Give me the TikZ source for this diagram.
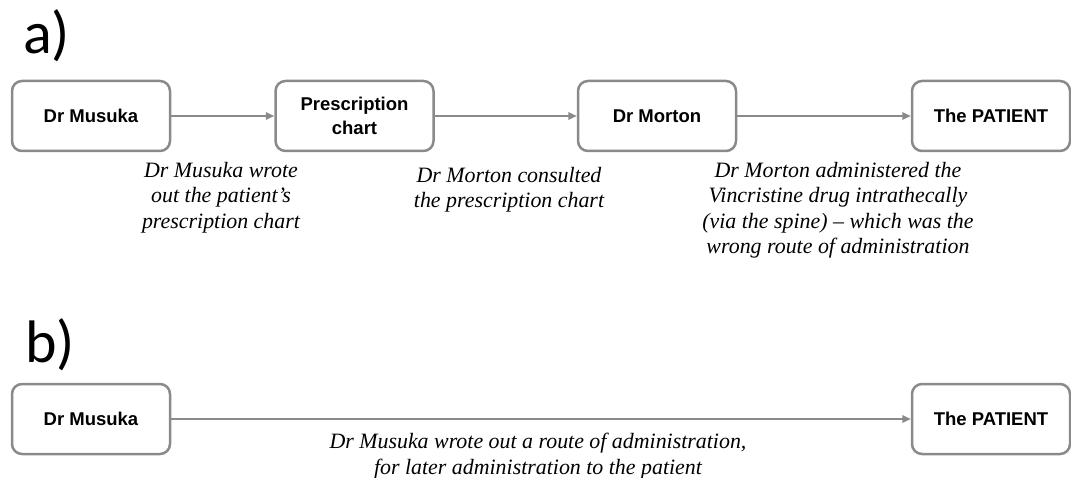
\documentclass[tikz,border=0pt]{standalone}
\usepackage{fontspec}
\setmainfont{Liberation Serif}
\newfontfamily\boxfont{Liberation Sans}
\newfontfamily\partfont{Carlito}
\usetikzlibrary{arrows.meta}
\definecolor{edgegray}{HTML}{8A8A8A}
\tikzset{
  actor/.style={draw=edgegray, line width=2.5pt, rounded corners=10pt, fill=white,
    minimum width=158pt, minimum height=70pt, inner sep=0pt, align=center,
    font=\boxfont\bfseries\fontsize{18.5}{24}\selectfont},
  flow/.style={draw=edgegray, line width=2pt,
    -{Triangle[length=8.5pt,width=7.5pt,fill=edgegray]}},
  note/.style={anchor=north, inner sep=0pt, align=center,
    font=\itshape\fontsize{21.9}{25.5}\selectfont},
  part/.style={anchor=base west, inner sep=0pt,
    font=\partfont\fontsize{60}{62}\selectfont}
}
\begin{document}
\begin{tikzpicture}[x=1pt, y=-1pt]
  \useasboundingbox (0,0) rectangle (1071,478);

  % panel a: the chain of events
  \node[part] (la) at (23,54) {a)};
  \node[actor] (musukaA) at (91,116) {Dr Musuka};
  \node[actor] (chart) at (354.5,116) {Prescription\\chart};
  \node[actor] (morton) at (657,116) {Dr Morton};
  \node[actor] (patientA) at (991,116) {The PATIENT};

  \draw[flow] (musukaA) -- (chart);
  \draw[flow] (chart) -- (morton);
  \draw[flow] (morton) -- (patientA);

  \node[note] (n1) at (221,162) {Dr Musuka wrote\\out the patient’s\\prescription chart};
  \node[note] (n2) at (509,167) {Dr Morton consulted\\the prescription chart};
  \node[note] (n3) at (838,162) {Dr Morton administered the\\Vincristine drug intrathecally\\(via the spine) – which was the\\wrong route of administration};

  % panel b: the direct link
  \node[part] (lb) at (25,362) {b)};
  \node[actor] (musukaB) at (91,419) {Dr Musuka};
  \node[actor] (patientB) at (991,419) {The PATIENT};

  \draw[flow] (musukaB) -- (patientB);

  \node[note] (n4) at (538,433) {Dr Musuka wrote out a route of administration,\\for later administration to the patient};
\end{tikzpicture}
\end{document}
